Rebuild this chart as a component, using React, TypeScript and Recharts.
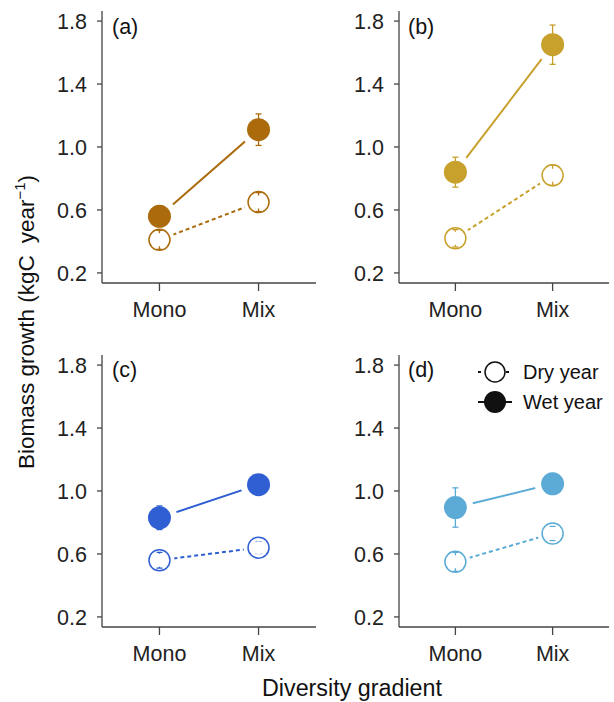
import React from "react";
import {
  ComposedChart,
  Line,
  Scatter,
  ErrorBar,
  XAxis,
  YAxis,
} from "recharts";

const groups = ["Mono", "Mix"];
const groupPos = [1, 2];
const yTicks = [0.2, 0.6, 1.0, 1.4, 1.8];

// (a)
const dryA = [0.41, 0.65];
const dryErrA = [0.06, 0.06];
const wetA = [0.56, 1.11];
const wetErrA = [0.065, 0.1];
// (b)
const dryB = [0.42, 0.82];
const dryErrB = [0.055, 0.065];
const wetB = [0.84, 1.65];
const wetErrB = [0.095, 0.125];
// (c)
const dryC = [0.56, 0.64];
const dryErrC = [0.05, 0.037];
const wetC = [0.83, 1.04];
const wetErrC = [0.075, 0.03];
// (d)
const dryD = [0.55, 0.73];
const dryErrD = [0.06, 0.045];
const wetD = [0.895, 1.046];
const wetErrD = [0.125, 0.065];

const FONT = "'Liberation Sans', Arial, sans-serif";
const AXIS = "#444";

type PanelProps = {
  color: string;
  dry: number[];
  dryErr: number[];
  wet: number[];
  wetErr: number[];
  plotLeft: number;
  plotTop: number;
  plotW: number;
  plotH: number;
};

function Panel({ color, dry, dryErr, wet, wetErr, plotLeft, plotTop, plotW, plotH }: PanelProps) {
  const data = groups.map((g, i) => ({
    x: groupPos[i],
    dry: dry[i],
    dryErr: dryErr[i],
    wet: wet[i],
    wetErr: wetErr[i],
  }));
  const margin = { top: 11, right: 10, left: 12, bottom: 7 };
  const width = plotW + 62 + 10;
  const height = plotH + 11 + 47;
  const none = () => <g />;

  return (
    <div style={{ position: "absolute", left: plotLeft - 62, top: plotTop - 11 }}>
      <ComposedChart width={width} height={height} data={data} margin={margin}>
        <XAxis
          dataKey="x"
          type="number"
          domain={[0.42, 2.58]}
          ticks={groupPos}
          allowDataOverflow
          tickFormatter={(v: number) => groups[groupPos.indexOf(v)]}
          tick={{ fontSize: 21.5, fill: "#222", fontFamily: FONT }}
          tickSize={8}
          tickMargin={11}
          height={40}
          axisLine={{ stroke: AXIS, strokeWidth: 1.3 }}
          tickLine={{ stroke: AXIS, strokeWidth: 1.3 }}
        />
        <YAxis
          type="number"
          domain={[0.136, 1.864]}
          ticks={yTicks}
          allowDataOverflow
          tickFormatter={(v: number) => v.toFixed(1)}
          tick={{ fontSize: 21.5, fill: "#222", fontFamily: FONT }}
          tickSize={5}
          tickMargin={10}
          width={50}
          axisLine={{ stroke: AXIS, strokeWidth: 1.3 }}
          tickLine={{ stroke: AXIS, strokeWidth: 1.3 }}
        />
        <Line
          dataKey="wet"
          stroke={color}
          strokeWidth={2}
          dot={false}
          activeDot={false}
          isAnimationActive={false}
        />
        <Line
          dataKey="dry"
          stroke={color}
          strokeWidth={2}
          strokeDasharray="4 3"
          dot={false}
          activeDot={false}
          isAnimationActive={false}
        />
        <Scatter
          dataKey="wet"
          isAnimationActive={false}
          zIndex={450}
          shape={(p: any) => <circle cx={p.cx} cy={p.cy} r={18} fill="#fff" />}
        />
        <Scatter
          dataKey="dry"
          isAnimationActive={false}
          zIndex={450}
          shape={(p: any) => <circle cx={p.cx} cy={p.cy} r={15} fill="#fff" />}
        />
        <Scatter dataKey="dry" isAnimationActive={false} zIndex={500} shape={none}>
          <ErrorBar dataKey="dryErr" direction="y" width={3} stroke={color} strokeWidth={1.3} zIndex={500} />
        </Scatter>
        <Scatter dataKey="wet" isAnimationActive={false} zIndex={500} shape={none}>
          <ErrorBar dataKey="wetErr" direction="y" width={3} stroke={color} strokeWidth={1.3} zIndex={500} />
        </Scatter>
        <Scatter
          dataKey="dry"
          isAnimationActive={false}
          zIndex={600}
          shape={(p: any) => (
            <g>
              <circle cx={p.cx} cy={p.cy} r={6.5} fill="#fff" />
              <circle cx={p.cx} cy={p.cy} r={10.5} fill="none" stroke={color} strokeWidth={1.5} />
            </g>
          )}
        />
        <Scatter
          dataKey="wet"
          isAnimationActive={false}
          zIndex={600}
          shape={(p: any) => <circle cx={p.cx} cy={p.cy} r={11.5} fill={color} />}
        />
      </ComposedChart>
    </div>
  );
}

export default function App() {
  return (
    <div style={{ position: "absolute", left: 0, top: 0, width: 614, height: 702, background: "#fff", fontFamily: FONT }}>
      <Panel color="#AB6B0C" dry={dryA} dryErr={dryErrA} wet={wetA} wetErr={wetErrA}
        plotLeft={102} plotTop={11} plotW={214} plotH={272} />
      <Panel color="#C8A02C" dry={dryB} dryErr={dryErrB} wet={wetB} wetErr={wetErrB}
        plotLeft={399} plotTop={11} plotW={210} plotH={272} />
      <Panel color="#2F5FD3" dry={dryC} dryErr={dryErrC} wet={wetC} wetErr={wetErrC}
        plotLeft={102} plotTop={355} plotW={214} plotH={272} />
      <Panel color="#5BABD6" dry={dryD} dryErr={dryErrD} wet={wetD} wetErr={wetErrD}
        plotLeft={399} plotTop={355} plotW={210} plotH={272} />

      <svg width={614} height={702} style={{ position: "absolute", left: 0, top: 0, pointerEvents: "none" }}
        fontFamily={FONT}>
        <text x={112} y={34} fontSize={21.5} fill="#111">(a)</text>
        <text x={408} y={34} fontSize={21.5} fill="#111">(b)</text>
        <text x={112} y={377} fontSize={21.5} fill="#111">(c)</text>
        <text x={408} y={377} fontSize={21.5} fill="#111">(d)</text>

        <text x={34} y={322} fontSize={22.5} fill="#111" textAnchor="middle" transform="rotate(-90 34 322)">
          Biomass growth (kgC<tspan dx={12}>year</tspan><tspan fontSize={15} dy={-9}>−1</tspan><tspan dy={9}>)</tspan>
        </text>
        <text x={352} y={696} fontSize={23.3} fill="#111" textAnchor="middle">Diversity gradient</text>

        {/* legend */}
        <line x1={478} y1={372} x2={484} y2={372} stroke="#111" strokeWidth={2} strokeDasharray="3 3" />
        <line x1={506} y1={372} x2={512} y2={372} stroke="#111" strokeWidth={2} strokeDasharray="3 3" />
        <circle cx={495} cy={372} r={10} fill="#fff" stroke="#111" strokeWidth={1.5} />
        <text x={523} y={379} fontSize={20} fill="#111">Dry year</text>
        <line x1={478} y1={402} x2={512} y2={402} stroke="#111" strokeWidth={2} />
        <circle cx={495} cy={402} r={11} fill="#111" />
        <text x={523} y={409} fontSize={20} fill="#111">Wet year</text>
      </svg>
    </div>
  );
}
